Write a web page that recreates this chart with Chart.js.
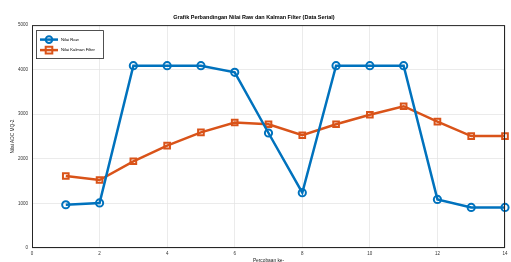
<!DOCTYPE html>
<html>
<head>
<meta charset="utf-8">
<script src="https://cdn.jsdelivr.net/npm/chart.js@4.4.1/dist/chart.umd.min.js"></script>
<style>
  html, body { margin: 0; padding: 0; background: #fff; }
  #wrap { width: 511px; height: 262px; }
</style>
</head>
<body>
<div id="wrap"><canvas id="grafik" width="511" height="262"></canvas></div>
<script>
// data percobaan
const percobaan = [1, 2, 3, 4, 5, 6, 7, 8, 9, 10, 11, 12, 13, 14];
const nilaiRaw = [970, 1010, 4090, 4090, 4090, 3940, 2580, 1240, 4090, 4090, 4090, 1090, 910, 910];
const nilaiKalman = [1615, 1525, 1945, 2295, 2595, 2815, 2775, 2530, 2775, 2990, 3180, 2835, 2510, 2510];
const xTicks = [0, 2, 4, 6, 8, 10, 12, 14];
const yTicks = [0, 1000, 2000, 3000, 4000, 5000];

const biru = '#0072BD';
const oranye = '#D95319';
const FONT = "'Liberation Sans', Arial, sans-serif";

function toPoints(ys) {
    return percobaan.map((x, i) => ({ x: x, y: ys[i] }));
}

// kotak sumbu + legend gaya MATLAB di pojok kiri atas
const boxPlugin = {
    id: 'boxPlugin',
    afterDraw(chart) {
        const ctx = chart.ctx;
        const a = chart.chartArea;
        ctx.save();
        ctx.strokeStyle = '#262626';
        ctx.lineWidth = 1;
        ctx.strokeRect(a.left + 0.5, a.top + 0.5, a.right - a.left - 1, a.bottom - a.top - 1);

        // legend
        const lx = a.left + 4, ly = a.top + 5, lw = 67, lh = 28;
        ctx.fillStyle = '#fff';
        ctx.fillRect(lx, ly, lw, lh);
        ctx.lineWidth = 0.8;
        ctx.strokeStyle = '#262626';
        ctx.strokeRect(lx + 0.5, ly + 0.5, lw, lh);
        chart.data.datasets.forEach((ds, i) => {
            const cy = ly + 9.5 + i * 10.5;
            const x0 = lx + 4, x1 = lx + 22, cx = (x0 + x1) / 2;
            ctx.strokeStyle = ds.borderColor;
            ctx.lineWidth = 2.5;
            ctx.beginPath(); ctx.moveTo(x0, cy); ctx.lineTo(x1, cy); ctx.stroke();
            ctx.lineWidth = 2;
            ctx.beginPath();
            if (ds.pointStyle === 'circle') {
                ctx.arc(cx, cy, 3.3, 0, Math.PI * 2);
            } else {
                ctx.rect(cx - 3.3, cy - 3.3, 6.6, 6.6);
            }
            ctx.stroke();
            ctx.fillStyle = '#000';
            ctx.font = '4.2px ' + FONT;
            ctx.textBaseline = 'middle';
            ctx.textAlign = 'left';
            ctx.fillText(ds.label, lx + 25, cy);
        });
        ctx.restore();
    }
};

const ctx = document.getElementById('grafik').getContext('2d');
const myChart = new Chart(ctx, {
    type: 'line',
    data: {
        datasets: [{
            label: 'Nilai Raw',
            data: toPoints(nilaiRaw),
            borderColor: biru,
            backgroundColor: biru,
            borderWidth: 2.5,
            pointStyle: 'circle',
            pointRadius: 3.6,
            pointBorderWidth: 2,
            pointBackgroundColor: 'rgba(0,0,0,0)',
            pointBorderColor: biru,
            tension: 0,
            clip: false
        }, {
            label: 'Nilai Kalman Filter',
            data: toPoints(nilaiKalman),
            borderColor: oranye,
            backgroundColor: oranye,
            borderWidth: 2.5,
            pointStyle: 'rect',
            pointRadius: 4,
            pointBorderWidth: 2,
            pointBackgroundColor: 'rgba(0,0,0,0)',
            pointBorderColor: oranye,
            tension: 0,
            clip: false
        }]
    },
    options: {
        responsive: false,
        animation: false,
        layout: { padding: { left: 0, right: 3, top: 0, bottom: 0 } },
        plugins: {
            title: {
                display: true,
                text: 'Grafik Perbandingan Nilai Raw dan Kalman Filter (Data Serial)',
                color: '#000',
                font: { family: FONT, size: 5.5, weight: 'bold' },
                padding: { top: 14, bottom: 4.5 }
            },
            legend: { display: false },
            tooltip: { enabled: false }
        },
        scales: {
            x: {
                type: 'linear',
                min: 0,
                max: 14,
                afterBuildTicks: (s) => { s.ticks = xTicks.map(v => ({ value: v })); },
                afterFit: (s) => { s.height = 14; s.paddingLeft = 0; s.paddingRight = 0; },
                grid: { color: '#e3e3e3', lineWidth: 0.7, drawTicks: false },
                border: { display: false },
                ticks: { padding: 3, color: '#333', font: { family: FONT, size: 4.5 }, maxRotation: 0,
                    callback: (v) => String(v) },
                title: {
                    display: true,
                    text: 'Percobaan ke-',
                    color: '#222',
                    font: { family: FONT, size: 4.8 },
                    padding: { top: 0, bottom: -2 }
                }
            },
            y: {
                min: 0,
                max: 5000,
                afterBuildTicks: (s) => { s.ticks = yTicks.map(v => ({ value: v })); },
                afterFit: (s) => { s.width = 32; },
                grid: { color: '#e3e3e3', lineWidth: 0.7, drawTicks: false },
                border: { display: false },
                ticks: { padding: 4, color: '#333', font: { family: FONT, size: 4.5 },
                    callback: (v) => String(v) },
                title: {
                    display: true,
                    text: 'Nilai ADC MQ-2',
                    color: '#222',
                    font: { family: FONT, size: 4.8 },
                    padding: { top: 10, bottom: 0 }
                }
            }
        }
    },
    plugins: [boxPlugin]
});
</script>
</body>
</html>
